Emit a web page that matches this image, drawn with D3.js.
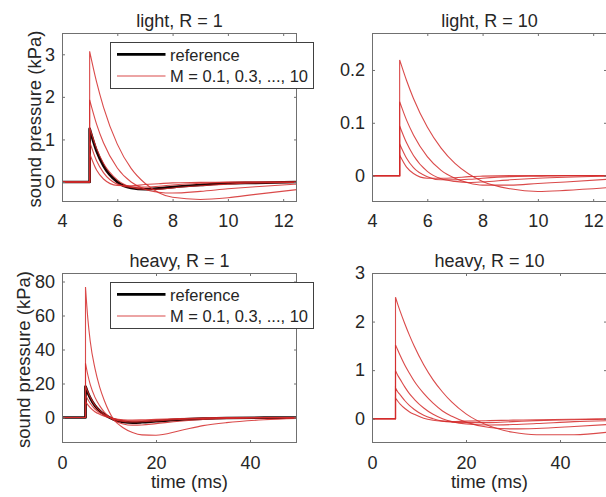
<!DOCTYPE html>
<html>
<head>
<meta charset="utf-8">
<script src="https://cdn.jsdelivr.net/npm/d3@7"></script>
<style>
  html, body { margin: 0; padding: 0; background: #fff; }
  svg { display: block; font-family: "Liberation Sans", Arial, sans-serif; }
</style>
</head>
<body>
<svg id="chart" width="606" height="497"></svg>
<script>
"use strict";

// pulse onset (ms); every trace is flat zero before it
const ONSET_MS = 5;

const lightTimes = [5, 5.25, 5.5, 6, 6.5, 7, 7.5, 8, 9, 10, 11, 12.5];
const heavyTimes = [5, 5.5, 6, 7, 8, 9, 11, 13, 15, 17, 20, 25, 30, 35, 43, 50];

const lightXTicks = [4, 6, 8, 10, 12];
const heavyXTicks = [0, 20, 40];
const lightR1YTicks = [0, 1, 2, 3];
const lightR10YTicks = [0, 0.1, 0.2];
const heavyR1YTicks = [0, 20, 40, 60, 80];
const heavyR10YTicks = [0, 1, 2, 3];

const legendLabels = ["reference", "M = 0.1, 0.3, ..., 10"];

// light, R = 1 (kPa)
const lightR1Ref = [1.25, 0.73, 0.38, 0, -0.14, -0.17, -0.15, -0.12, -0.07, -0.03, -0.02, 0];
const lightR1M = [
    [0.67, 0.28, 0.07, -0.08, -0.09, -0.06, -0.04, -0.02, -0.01, 0, 0, 0],
    [0.95, 0.50, 0.22, -0.05, -0.12, -0.12, -0.10, -0.07, -0.03, -0.01, 0, 0],
    [1.28, 0.79, 0.44, 0.05, -0.12, -0.17, -0.17, -0.14, -0.09, -0.05, -0.02, -0.01],
    [1.93, 1.36, 0.92, 0.33, 0, -0.17, -0.24, -0.26, -0.22, -0.16, -0.11, -0.05],
    [3.07, 2.35, 1.76, 0.89, 0.32, -0.03, -0.25, -0.36, -0.41, -0.37, -0.29, -0.18],
];

// light, R = 10 (kPa)
const lightR10M = [
    [0.039, 0.016, 0.004, -0.005, -0.005, -0.004, -0.002, -0.001, 0, 0, 0, 0],
    [0.060, 0.033, 0.015, -0.002, -0.008, -0.008, -0.007, -0.005, -0.002, -0.001, 0, 0],
    [0.094, 0.062, 0.038, 0.008, -0.006, -0.011, -0.013, -0.012, -0.008, -0.005, -0.003, -0.001],
    [0.140, 0.105, 0.077, 0.036, 0.010, -0.005, -0.014, -0.018, -0.018, -0.015, -0.012, -0.007],
    [0.219, 0.180, 0.146, 0.092, 0.052, 0.023, 0.003, -0.011, -0.025, -0.030, -0.028, -0.023],
];

// heavy, R = 1 (kPa)
const heavyR1Ref = [18.2, 14.5, 11.5, 7.0, 4.0, 1.8, -1.2, -2.6, -3.0, -2.8, -2.2, -1.3, -0.7, -0.3, -0.1, 0];
const heavyR1M = [
    [9.4, 7.4, 5.8, 3.4, 1.9, 0.8, -0.6, -1.3, -1.5, -1.4, -1.1, -0.6, -0.3, -0.1, 0, 0],
    [13.3, 10.6, 8.4, 5.0, 2.8, 1.3, -0.8, -1.8, -2.0, -1.9, -1.5, -0.9, -0.5, -0.2, 0, 0],
    [18.5, 15.0, 12.0, 7.2, 4.2, 2.0, -1.0, -2.3, -2.6, -2.5, -2.0, -1.2, -0.6, -0.3, -0.1, 0],
    [31.9, 25.0, 19.5, 12.0, 7.0, 3.2, -1.6, -3.8, -4.5, -4.4, -3.6, -2.2, -1.2, -0.6, -0.2, 0],
    [76.8, 58, 45, 29, 18, 10, -1.2, -6, -8.8, -10.2, -10.4, -7.8, -4.8, -3.0, -1.3, -0.5],
];

// heavy, R = 10 (kPa)
const heavyR10M = [
    [0.42, 0.36, 0.30, 0.21, 0.14, 0.09, 0.01, -0.03, -0.05, -0.06, -0.05, -0.04, -0.03, -0.02, -0.01, 0],
    [0.63, 0.55, 0.49, 0.37, 0.27, 0.19, 0.07, 0, -0.05, -0.07, -0.08, -0.08, -0.06, -0.04, -0.02, -0.01],
    [0.99, 0.89, 0.81, 0.65, 0.51, 0.40, 0.22, 0.09, 0, -0.06, -0.11, -0.13, -0.12, -0.10, -0.06, -0.04],
    [1.52, 1.41, 1.30, 1.10, 0.93, 0.77, 0.52, 0.32, 0.16, 0.05, -0.07, -0.18, -0.21, -0.20, -0.16, -0.12],
    [2.50, 2.35, 2.21, 1.95, 1.71, 1.49, 1.11, 0.80, 0.55, 0.34, 0.10, -0.15, -0.28, -0.33, -0.33, -0.28],
];

const panels = [
    {
        title: "light, R = 1", times: lightTimes, ref: lightR1Ref, series: lightR1M,
        xDomain: [4, 12.5], yDomain: [-0.47, 3.5], xTicks: lightXTicks, yTicks: lightR1YTicks,
        left: 62, top: 33, height: 169, legend: true, ylabelX: 41, xlabel: false, xTickBase: 25,
    },
    {
        title: "light, R = 10", times: lightTimes, ref: null, series: lightR10M,
        xDomain: [4, 12.5], yDomain: [-0.05, 0.27], xTicks: lightXTicks, yTicks: lightR10YTicks,
        left: 372, top: 33, height: 169, legend: false, ylabelX: null, xlabel: false, xTickBase: 25,
    },
    {
        title: "heavy, R = 1", times: heavyTimes, ref: heavyR1Ref, series: heavyR1M,
        xDomain: [0, 50], yDomain: [-15, 85], xTicks: heavyXTicks, yTicks: heavyR1YTicks,
        left: 62, top: 273, height: 170, legend: true, ylabelX: 30, xlabel: true, xTickBase: 25.5, xlabelShift: 10,
    },
    {
        title: "heavy, R = 10", times: heavyTimes, ref: null, series: heavyR10M,
        xDomain: [0, 50], yDomain: [-0.5, 3], xTicks: heavyXTicks, yTicks: heavyR10YTicks,
        left: 372, top: 273, height: 170, legend: false, ylabelX: null, xlabel: true, xTickBase: 25.5, xlabelShift: 0,
    },
];

const PANEL_WIDTH = 235;
const FONT_SIZE = 18;
const TEXT_COLOR = "#262626";
const AXIS_COLOR = "#707070";
const RED = "#d42a2a";

const svg = d3.select("#chart");
svg.append("rect").attr("width", 606).attr("height", 497).attr("fill", "#fff");

panels.forEach((panel, index) => drawPanel(panel, index));

function drawPanel(panel, index) {
    const x = d3.scaleLinear()
        .domain(panel.xDomain)
        .range([panel.left, panel.left + PANEL_WIDTH]);
    const y = d3.scaleLinear()
        .domain(panel.yDomain)
        .range([panel.top + panel.height, panel.top]);

    const clipId = `clip-${index}`;
    svg.append("clipPath")
        .attr("id", clipId)
        .append("rect")
        .attr("x", panel.left)
        .attr("y", panel.top)
        .attr("width", PANEL_WIDTH)
        .attr("height", panel.height);

    const plot = svg.append("g").attr("clip-path", `url(#${clipId})`);

    const stepLine = d3.line().x(d => x(d[0])).y(d => y(d[1]));
    const decayLine = d3.line().x(d => x(d[0])).y(d => y(d[1])).curve(d3.curveMonotoneX);

    const tracePath = (values) => {
        const points = panel.times.map((t, i) => [t, values[i]]);
        const step = stepLine([[panel.xDomain[0], 0], [ONSET_MS, 0], points[0]]);
        const decay = decayLine(points);
        return step + "L" + decay.slice(1);
    };

    if (panel.ref) {
        plot.append("path")
            .attr("d", tracePath(panel.ref))
            .attr("fill", "none")
            .attr("stroke", "#1a0404")
            .attr("stroke-width", 2.7)
            .attr("stroke-linejoin", "round");
    }

    plot.selectAll("path.m-trace")
        .data(panel.series)
        .enter()
        .append("path")
        .attr("class", "m-trace")
        .attr("d", d => tracePath(d))
        .attr("fill", "none")
        .attr("stroke", RED)
        .attr("stroke-opacity", 0.85)
        .attr("stroke-width", 1.1);

    // axes, MATLAB style: ticks inside on all four sides
    const bottom = panel.top + panel.height;
    const right = panel.left + PANEL_WIDTH;
    const fmt = d3.format("~g");

    const xAxis = svg.append("g")
        .attr("transform", `translate(0,${bottom})`)
        .call(d3.axisBottom(x).tickValues(panel.xTicks).tickFormat(fmt)
            .tickSizeInner(-3).tickSizeOuter(0).tickPadding(panel.xTickBase - 0.71 * FONT_SIZE));
    const xTop = svg.append("g")
        .attr("transform", `translate(0,${panel.top})`)
        .call(d3.axisTop(x).tickValues(panel.xTicks).tickFormat("")
            .tickSizeInner(-3).tickSizeOuter(0));
    const yAxis = svg.append("g")
        .attr("transform", `translate(${panel.left},0)`)
        .call(d3.axisLeft(y).tickValues(panel.yTicks).tickFormat(fmt)
            .tickSizeInner(-3).tickSizeOuter(0).tickPadding(7));
    const yRight = svg.append("g")
        .attr("transform", `translate(${right},0)`)
        .call(d3.axisRight(y).tickValues(panel.yTicks).tickFormat("")
            .tickSizeInner(-3).tickSizeOuter(0));

    for (const axis of [xAxis, xTop, yAxis, yRight]) {
        axis.select(".domain").remove();
        axis.selectAll(".tick line").attr("stroke", AXIS_COLOR);
        axis.selectAll(".tick text")
            .attr("fill", TEXT_COLOR)
            .style("font-size", `${FONT_SIZE}px`)
            .style("font-family", '"Liberation Sans", Arial, sans-serif');
    }

    svg.append("rect")
        .attr("x", panel.left + 0.5)
        .attr("y", panel.top + 0.5)
        .attr("width", PANEL_WIDTH - 1)
        .attr("height", panel.height - 1)
        .attr("fill", "none")
        .attr("stroke", AXIS_COLOR)
        .attr("stroke-width", 1);

    svg.append("text")
        .attr("x", panel.left + PANEL_WIDTH / 2)
        .attr("y", panel.top - 6.5)
        .attr("text-anchor", "middle")
        .attr("fill", TEXT_COLOR)
        .style("font-size", `${FONT_SIZE}px`)
        .text(panel.title);

    if (panel.ylabelX !== null) {
        svg.append("text")
            .attr("transform", `translate(${panel.ylabelX},${panel.top + panel.height / 2 + 1.5}) rotate(-90)`)
            .attr("text-anchor", "middle")
            .attr("fill", TEXT_COLOR)
            .style("font-size", "18.5px")
            .text("sound pressure (kPa)");
    }

    if (panel.xlabel) {
        svg.append("text")
            .attr("x", panel.left + PANEL_WIDTH / 2 + panel.xlabelShift)
            .attr("y", 488)
            .attr("text-anchor", "middle")
            .attr("fill", TEXT_COLOR)
            .style("font-size", "18.5px")
            .text("time (ms)");
    }

    if (panel.legend) {
        drawLegend(panel.left, panel.top);
    }
}

function drawLegend(left, top) {
    const legend = svg.append("g").attr("transform", `translate(${left + 48},${top + 9})`);
    legend.append("rect")
        .attr("x", 0.5)
        .attr("y", 0.5)
        .attr("width", 203)
        .attr("height", 46)
        .attr("fill", "#fff")
        .attr("stroke", "#404040")
        .attr("stroke-width", 1);

    const rows = [
        {label: legendLabels[0], color: "#000", width: 2.7, opacity: 1},
        {label: legendLabels[1], color: RED, width: 1.1, opacity: 0.85},
    ];
    rows.forEach((row, i) => {
        const lineY = 12.3 + i * 21.7;
        legend.append("line")
            .attr("x1", 7)
            .attr("x2", 55.5)
            .attr("y1", lineY)
            .attr("y2", lineY)
            .attr("stroke", row.color)
            .attr("stroke-opacity", row.opacity)
            .attr("stroke-width", row.width);
        legend.append("text")
            .attr("x", 60)
            .attr("y", lineY + 6.2)
            .attr("fill", TEXT_COLOR)
            .style("font-size", "16.5px")
            .text(row.label);
    });
}
</script>
</body>
</html>
